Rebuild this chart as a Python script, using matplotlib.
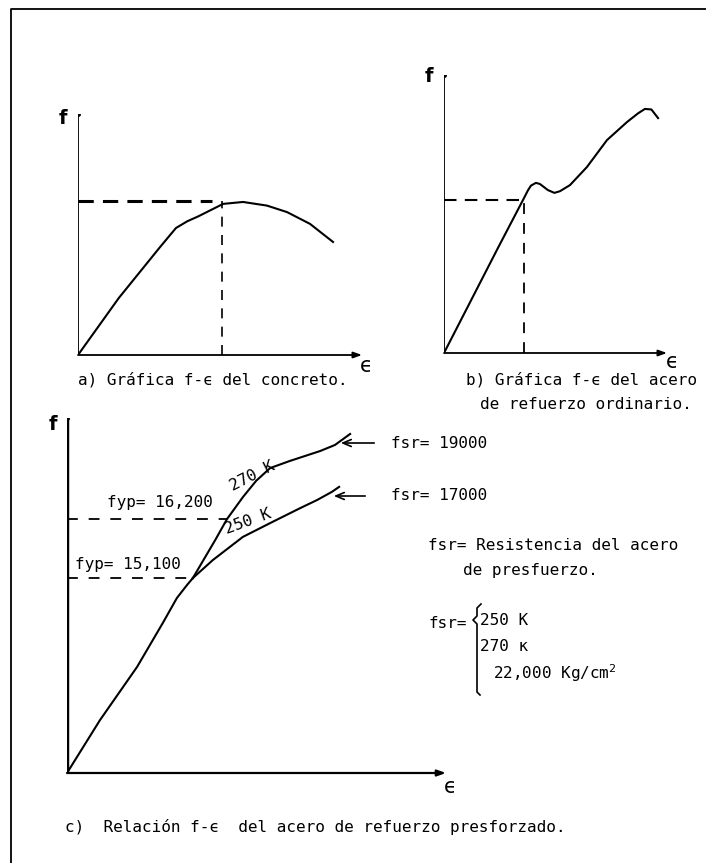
import matplotlib
matplotlib.use("Agg")
import matplotlib.pyplot as plt

W, H = 706, 863
MONO = "DejaVu Sans Mono"

# a) concreto: deformacion / esfuerzo (unidades relativas 0-10)
conc_eps = [0, 1.44, 2.32, 2.89, 3.45, 3.85, 4.23, 5.11, 5.81, 6.65, 7.36, 8.17, 8.98]
conc_f = [0, 2.37, 3.65, 4.48, 5.27, 5.55, 5.75, 6.27, 6.35, 6.20, 5.93, 5.44, 4.69]
conc_fy = 6.39
conc_ey = 5.07

# b) acero de refuerzo ordinario
ord_eps = [0, 2.42, 3.54, 3.77, 3.90, 4.12, 4.30, 4.66, 4.95, 5.20, 5.65, 6.41, 7.31, 8.21, 8.70, 9.01, 9.30, 9.60]
ord_f = [0, 3.78, 5.50, 5.86, 6.02, 6.12, 6.08, 5.86, 5.76, 5.82, 6.04, 6.69, 7.66, 8.31, 8.62, 8.78, 8.76, 8.45]
ord_fy = 5.50
ord_ey = 3.59

# c) acero de presfuerzo (tramo comun + 270 K + 250 K)
com_eps = [0, 0.87, 1.85, 2.53, 2.90, 3.17, 3.32]
com_f = [0, 1.49, 2.99, 4.23, 4.93, 5.30, 5.49]
k270_eps = [3.32, 3.91, 4.22, 4.64, 4.99, 5.36, 5.88, 6.68, 7.07, 7.47]
k270_f = [5.49, 6.56, 7.15, 7.77, 8.23, 8.59, 8.79, 9.07, 9.24, 9.55]
k250_eps = [3.32, 3.85, 4.64, 5.36, 6.15, 6.60, 6.99, 7.18]
k250_f = [5.49, 6.00, 6.65, 7.04, 7.46, 7.69, 7.92, 8.06]
fyp_270, fyp_270_eps = 7.15, 4.22
fyp_250, fyp_250_eps = 5.49, 3.25


def px_axes(fig, ox, oy, tip, top):
    ax = fig.add_axes([ox / W, 1 - oy / H, (tip - ox) / W, (oy - top) / H])
    ax.set_xlim(0, 10)
    ax.set_ylim(0, 10)
    ax.axis("off")
    return ax


def ejes(ax, lw_y=1.3, lw_x=1.3):
    head = dict(arrowstyle="-|>,head_length=0.5,head_width=0.18", color="black")
    ax.annotate("", xy=(10, 0), xytext=(0, 0), arrowprops=dict(head, lw=lw_x, shrinkA=0, shrinkB=0))
    ax.plot([0, 0], [0, 10], color="black", lw=lw_y, solid_capstyle="butt")
    ax.plot([0], [10], marker="o", ms=2.5, color="black")


fig = plt.figure(figsize=(W / 100, H / 100), dpi=100)
bg = fig.add_axes([0, 0, 1, 1])
bg.set_xlim(0, W)
bg.set_ylim(H, 0)
bg.axis("off")

# marco de la pagina
bg.plot([11, 11, W], [H, 9, 9], color="black", lw=1.3)

# a) concreto
ax_a = px_axes(fig, 78, 355, 362, 114)
ejes(ax_a)
ax_a.plot(conc_eps, conc_f, color="black", lw=1.5)
ax_a.plot([0, conc_ey * 0.93], [conc_fy, conc_fy], color="black", lw=2.2, dashes=(5, 3))
ax_a.plot([conc_ey, conc_ey], [0, conc_fy], color="black", lw=1.2, dashes=(6, 5))

# b) acero ordinario
ax_b = px_axes(fig, 444, 353, 667, 75)
ejes(ax_b)
ax_b.plot(ord_eps, ord_f, color="black", lw=1.5)
ax_b.plot([0, ord_ey], [ord_fy, ord_fy], color="black", lw=1.5, dashes=(6, 4))
ax_b.plot([ord_ey, ord_ey], [0, ord_fy], color="black", lw=1.3, dashes=(6, 5))

# c) acero presforzado
ax_c = px_axes(fig, 67, 773, 446, 418)
ejes(ax_c, lw_y=3.2, lw_x=1.6)
ax_c.plot(com_eps, com_f, color="black", lw=1.5)
ax_c.plot(k270_eps, k270_f, color="black", lw=1.5)
ax_c.plot(k250_eps, k250_f, color="black", lw=1.5)
ax_c.plot([0, fyp_270_eps], [fyp_270, fyp_270], color="black", lw=1.3, dashes=(6, 6))
ax_c.plot([0, fyp_250_eps], [fyp_250, fyp_250], color="black", lw=1.3, dashes=(6, 6))

# flechas fsr
flecha = dict(arrowstyle="->,head_length=0.6,head_width=0.25", color="black", lw=1.2)
bg.annotate("", xy=(338, 443), xytext=(377, 443), arrowprops=flecha)
bg.annotate("", xy=(331, 496), xytext=(368, 496), arrowprops=flecha)

# llave
bg.plot([481, 477, 477, 473, 477, 477, 480],
        [604, 608, 616, 620, 624, 692, 695], color="black", lw=1.2)

# textos
txt = dict(family=MONO, fontsize=11.5, color="black", va="center", ha="left")
lbl = dict(family="DejaVu Sans", fontsize=14, color="black", va="center", ha="center")
eps_lbl = dict(family="DejaVu Sans", fontsize=15, color="black", va="center", ha="center")

bg.text(63, 118, "f", fontweight="bold", **lbl)
bg.text(366, 366, "ϵ", **eps_lbl)
bg.text(429, 76, "f", fontweight="bold", **lbl)
bg.text(672, 362, "ϵ", **eps_lbl)
bg.text(53, 424, "f", fontweight="bold", **lbl)
bg.text(450, 787, "ϵ", **eps_lbl)

bg.text(78, 380, "a) Gráfica f-ϵ del concreto.", **txt)
bg.text(466, 380, "b) Gráfica f-ϵ del acero", **txt)
bg.text(480, 404, "de refuerzo ordinario.", **txt)
bg.text(65, 827, "c)  Relación f-ϵ  del acero de refuerzo presforzado.", **txt)

bg.text(107, 502, "fyp= 16,200", **txt)
bg.text(75, 564, "fyp= 15,100", **txt)
bg.text(252, 476, "270 K", family=MONO, fontsize=11.5, rotation=27,
        ha="center", va="center", rotation_mode="anchor")
bg.text(248, 522, "250 K", family=MONO, fontsize=11.5, rotation=20,
        ha="center", va="center", rotation_mode="anchor")

bg.text(391, 443, "fsr= 19000", **txt)
bg.text(391, 495, "fsr= 17000", **txt)
bg.text(428, 545, "fsr= Resistencia del acero", **txt)
bg.text(463, 570, "de presfuerzo.", **txt)
bg.text(428, 623, "fsr=", **txt)
bg.text(480, 620, "250 K", **txt)
bg.text(480, 646, "270 κ", **txt)
bg.text(493, 673, "22,000 Kg/cm$^2$", **txt)

fig.savefig("out.png", dpi=100, facecolor="white")
